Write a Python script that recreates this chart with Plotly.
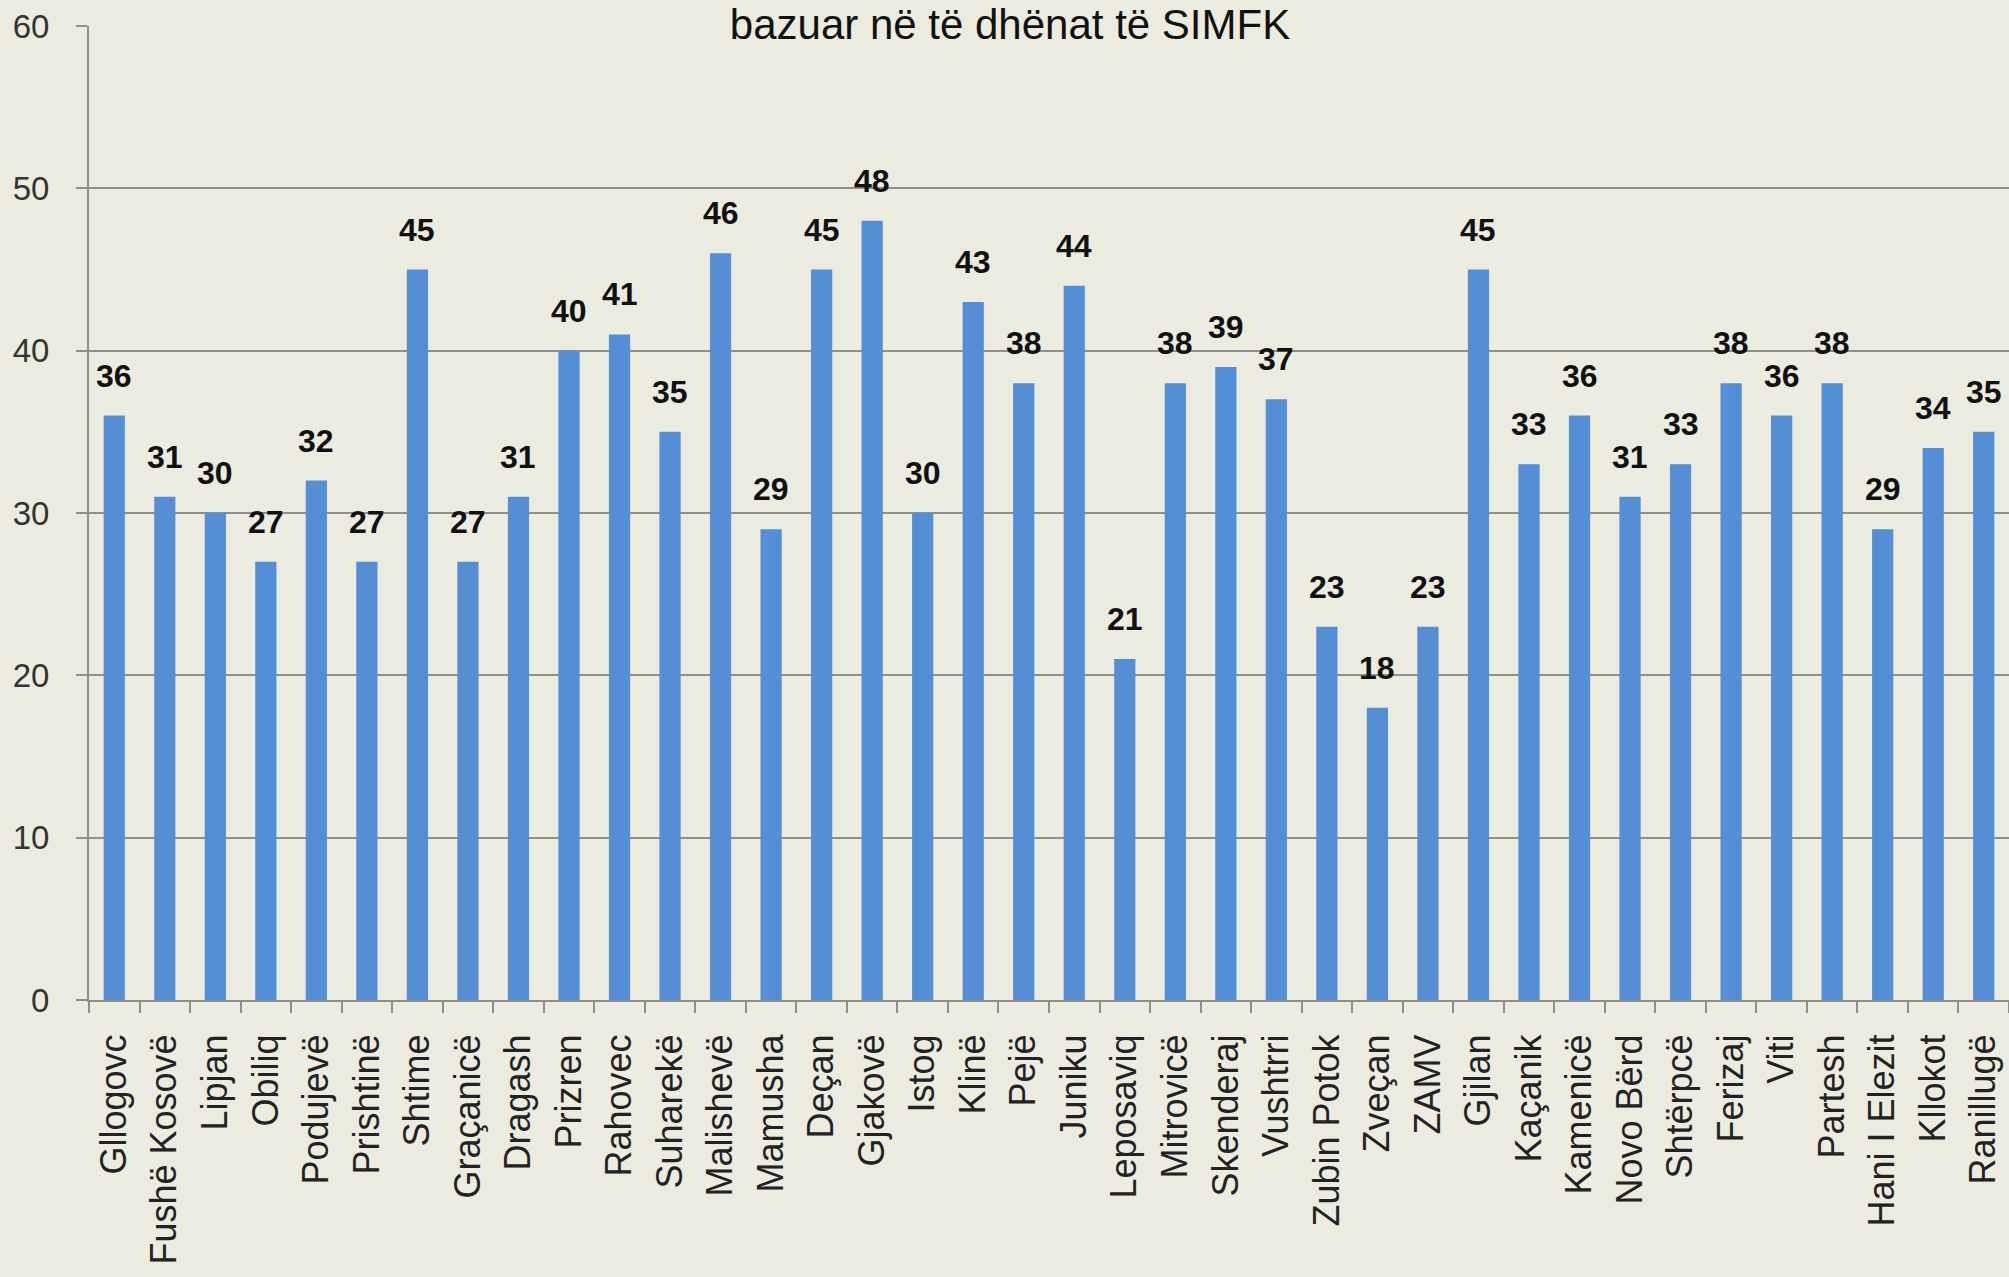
import plotly.graph_objects as go

categories = ["Gllogovc", "Fushë Kosovë", "Lipjan", "Obiliq", "Podujevë", "Prishtinë",
              "Shtime", "Graçanicë", "Dragash", "Prizren", "Rahovec", "Suharekë",
              "Malishevë", "Mamusha", "Deçan", "Gjakovë", "Istog", "Klinë", "Pejë",
              "Juniku", "Leposaviq", "Mitrovicë", "Skenderaj", "Vushtrri",
              "Zubin Potok", "Zveçan", "ZAMV", "Gjilan", "Kaçanik", "Kamenicë",
              "Novo Bërd", "Shtërpcë", "Ferizaj", "Viti", "Partesh", "Hani I Elezit",
              "Kllokot", "Ranillugë"]
values = [36, 31, 30, 27, 32, 27, 45, 27, 31, 40, 41, 35, 46, 29, 45, 48, 30, 43, 38,
          44, 21, 38, 39, 37, 23, 18, 23, 45, 33, 36, 31, 33, 38, 36, 38, 29, 34, 35]
y_ticks = [0, 10, 20, 30, 40, 50, 60]
title_text = "bazuar në të dhënat të SIMFK"

BG = "#ECEBE0"
BAR = "#558ED5"
GRID = "#8E8E8E"
FONT = "Liberation Sans, Arial, sans-serif"

fig = go.Figure()
fig.add_trace(go.Bar(x=categories, y=values, marker=dict(color=BAR, line=dict(width=0)),
                     hoverinfo="x+y"))

for c, v in zip(categories, values):
    fig.add_annotation(x=c, y=v, text=f"<b>{v}</b>", showarrow=False, yanchor="middle",
                       yshift=40, font=dict(family=FONT, size=32, color="#111111"))

fig.update_layout(
    width=2009, height=1277,
    paper_bgcolor=BG, plot_bgcolor=BG,
    margin=dict(l=89, r=0, t=26, b=277),
    bargap=0.58,
    showlegend=False,
    title=dict(text=title_text, x=1010 / 2009, xanchor="center", xref="container",
               y=1 - 39 / 1277, yref="container", yanchor="bottom",
               font=dict(family=FONT, size=42, color="#111111")),
    font=dict(family=FONT),
)
fig.update_xaxes(type="category", showline=True, linecolor=GRID, linewidth=2,
                 ticks="outside", tickson="boundaries", ticklen=11, tickwidth=2,
                 tickcolor=GRID, tickangle=-90, ticklabelstandoff=18,
                 tickfont=dict(family=FONT, size=36, color="#222222"),
                 showgrid=False, range=[-0.5, len(categories) - 0.5])
fig.update_yaxes(range=[0, 60], tickvals=y_ticks, showline=True, linecolor=GRID,
                 linewidth=2, ticks="outside", ticklen=11, tickwidth=2, tickcolor=GRID,
                 showgrid=True, gridcolor=GRID, gridwidth=2, zeroline=False,
                 ticklabelstandoff=20,
                 tickfont=dict(family=FONT, size=33, color="#333333"))

fig.write_html("out.html",
               config={"displayModeBar": False},
               post_script="document.body.style.margin='0px';"
                           "document.body.style.overflow='hidden';"
                           "document.body.style.background='#ECEBE0';")
